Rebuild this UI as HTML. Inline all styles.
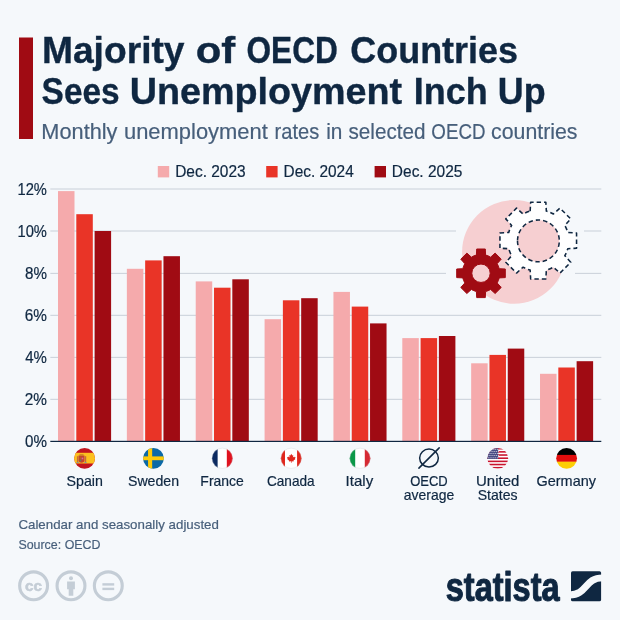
<!DOCTYPE html>
<html lang="en"><head><meta charset="utf-8"><title>Majority of OECD Countries Sees Unemployment Inch Up</title>
<style>html,body{margin:0;padding:0;background:#f5f8fb;}svg{display:block}</style></head>
<body>
<svg width="620" height="620" viewBox="0 0 620 620" font-family="Liberation Sans, sans-serif">
<rect width="620" height="620" fill="#f5f8fb"/>
<rect x="19" y="37.5" width="14" height="101.5" fill="#a00b13"/>
<text y="63.4" font-size="36" fill="#0f2741" font-weight="bold" stroke="#0f2741" stroke-width="0.35"><tspan x="41.93" textLength="142.64" lengthAdjust="spacingAndGlyphs">Majority</tspan> <tspan x="195.67" textLength="39.5" lengthAdjust="spacingAndGlyphs">of</tspan> <tspan x="246.42" textLength="91.47" lengthAdjust="spacingAndGlyphs">OECD</tspan> <tspan x="350.35" textLength="167.67" lengthAdjust="spacingAndGlyphs">Countries</tspan></text>
<text y="103.6" font-size="36" fill="#0f2741" font-weight="bold" stroke="#0f2741" stroke-width="0.35"><tspan x="41.62" textLength="77.98" lengthAdjust="spacingAndGlyphs">Sees</tspan> <tspan x="129.75" textLength="272.38" lengthAdjust="spacingAndGlyphs">Unemployment</tspan> <tspan x="413.8" textLength="73.95" lengthAdjust="spacingAndGlyphs">Inch</tspan> <tspan x="497.75" textLength="47.79" lengthAdjust="spacingAndGlyphs">Up</tspan></text>
<text y="138.8" font-size="21.5" fill="#475f7b" stroke="#475f7b" stroke-width="0.2"><tspan x="41.38" textLength="76.08" lengthAdjust="spacingAndGlyphs">Monthly</tspan> <tspan x="123.93" textLength="143.95" lengthAdjust="spacingAndGlyphs">unemployment</tspan> <tspan x="274.56" textLength="44.64" lengthAdjust="spacingAndGlyphs">rates</tspan> <tspan x="326.16" textLength="16.19" lengthAdjust="spacingAndGlyphs">in</tspan> <tspan x="348.54" textLength="76.93" lengthAdjust="spacingAndGlyphs">selected</tspan> <tspan x="431.33" textLength="54.14" lengthAdjust="spacingAndGlyphs">OECD</tspan> <tspan x="491.09" textLength="86.45" lengthAdjust="spacingAndGlyphs">countries</tspan></text>
<rect x="157.8" y="166" width="11.4" height="11.4" fill="#f5aaac"/>
<text x="175.16" y="177.0" font-size="16.5" fill="#0f2741" stroke="#0f2741" stroke-width="0.2" textLength="70.51" lengthAdjust="spacingAndGlyphs">Dec. 2023</text>
<rect x="266.2" y="166" width="11.4" height="11.4" fill="#e93427"/>
<text x="283.51" y="177.0" font-size="16.5" fill="#0f2741" stroke="#0f2741" stroke-width="0.2" textLength="70.26" lengthAdjust="spacingAndGlyphs">Dec. 2024</text>
<rect x="374.6" y="166" width="11.4" height="11.4" fill="#a00b13"/>
<text x="391.86" y="177.0" font-size="16.5" fill="#0f2741" stroke="#0f2741" stroke-width="0.2" textLength="70.51" lengthAdjust="spacingAndGlyphs">Dec. 2025</text>
<rect x="50.3" y="398.80" width="551.0" height="1.1" fill="#cdd3dc"/>
<rect x="50.3" y="356.85" width="551.0" height="1.1" fill="#cdd3dc"/>
<rect x="50.3" y="314.80" width="551.0" height="1.1" fill="#cdd3dc"/>
<rect x="50.3" y="272.85" width="395.7" height="1.1" fill="#cdd3dc"/>
<rect x="575" y="272.85" width="26.3" height="1.1" fill="#cdd3dc"/>
<rect x="50.3" y="230.45" width="405.7" height="1.1" fill="#cdd3dc"/>
<rect x="584" y="230.45" width="17.3" height="1.1" fill="#cdd3dc"/>
<rect x="50.3" y="188.45" width="551.0" height="1.1" fill="#cdd3dc"/>
<text x="24.98" y="446.5" font-size="16" fill="#0f2741" stroke="#0f2741" stroke-width="0.2" textLength="21.95" lengthAdjust="spacingAndGlyphs">0%</text>
<text x="24.71" y="404.5" font-size="16" fill="#0f2741" stroke="#0f2741" stroke-width="0.2" textLength="22.23" lengthAdjust="spacingAndGlyphs">2%</text>
<text x="25.24" y="362.5" font-size="16" fill="#0f2741" stroke="#0f2741" stroke-width="0.2" textLength="21.68" lengthAdjust="spacingAndGlyphs">4%</text>
<text x="24.71" y="320.5" font-size="16" fill="#0f2741" stroke="#0f2741" stroke-width="0.2" textLength="22.23" lengthAdjust="spacingAndGlyphs">6%</text>
<text x="24.96" y="278.5" font-size="16" fill="#0f2741" stroke="#0f2741" stroke-width="0.2" textLength="21.96" lengthAdjust="spacingAndGlyphs">8%</text>
<text x="17.48" y="236.5" font-size="16" fill="#0f2741" stroke="#0f2741" stroke-width="0.2" textLength="29.44" lengthAdjust="spacingAndGlyphs">10%</text>
<text x="17.48" y="194.5" font-size="16" fill="#0f2741" stroke="#0f2741" stroke-width="0.2" textLength="29.44" lengthAdjust="spacingAndGlyphs">12%</text>
<rect x="58.00" y="191.10" width="16.5" height="250.50" fill="#f5aaac"/>
<rect x="76.30" y="214.20" width="16.5" height="227.40" fill="#e93427"/>
<rect x="94.60" y="231.00" width="16.5" height="210.60" fill="#a00b13"/>
<rect x="126.86" y="268.80" width="16.5" height="172.80" fill="#f5aaac"/>
<rect x="145.16" y="260.40" width="16.5" height="181.20" fill="#e93427"/>
<rect x="163.46" y="256.20" width="16.5" height="185.40" fill="#a00b13"/>
<rect x="195.72" y="281.40" width="16.5" height="160.20" fill="#f5aaac"/>
<rect x="214.02" y="287.70" width="16.5" height="153.90" fill="#e93427"/>
<rect x="232.32" y="279.30" width="16.5" height="162.30" fill="#a00b13"/>
<rect x="264.58" y="319.20" width="16.5" height="122.40" fill="#f5aaac"/>
<rect x="282.88" y="300.30" width="16.5" height="141.30" fill="#e93427"/>
<rect x="301.18" y="298.20" width="16.5" height="143.40" fill="#a00b13"/>
<rect x="333.44" y="291.90" width="16.5" height="149.70" fill="#f5aaac"/>
<rect x="351.74" y="306.60" width="16.5" height="135.00" fill="#e93427"/>
<rect x="370.04" y="323.40" width="16.5" height="118.20" fill="#a00b13"/>
<rect x="402.30" y="338.10" width="16.5" height="103.50" fill="#f5aaac"/>
<rect x="420.60" y="338.10" width="16.5" height="103.50" fill="#e93427"/>
<rect x="438.90" y="336.00" width="16.5" height="105.60" fill="#a00b13"/>
<rect x="471.16" y="363.30" width="16.5" height="78.30" fill="#f5aaac"/>
<rect x="489.46" y="354.90" width="16.5" height="86.70" fill="#e93427"/>
<rect x="507.76" y="348.60" width="16.5" height="93.00" fill="#a00b13"/>
<rect x="540.02" y="373.80" width="16.5" height="67.80" fill="#f5aaac"/>
<rect x="558.32" y="367.50" width="16.5" height="74.10" fill="#e93427"/>
<rect x="576.62" y="361.20" width="16.5" height="80.40" fill="#a00b13"/>
<rect x="50.3" y="440.8" width="551" height="1.2" fill="#0f2741"/>
<text x="66.52" y="485.8" font-size="14.5" fill="#0f2741" stroke="#0f2741" stroke-width="0.2" textLength="36.33" lengthAdjust="spacingAndGlyphs">Spain</text>
<text x="127.97" y="485.8" font-size="14.5" fill="#0f2741" stroke="#0f2741" stroke-width="0.2" textLength="51.07" lengthAdjust="spacingAndGlyphs">Sweden</text>
<text x="200.36" y="485.8" font-size="14.5" fill="#0f2741" stroke="#0f2741" stroke-width="0.2" textLength="43.44" lengthAdjust="spacingAndGlyphs">France</text>
<text x="266.95" y="485.8" font-size="14.5" fill="#0f2741" stroke="#0f2741" stroke-width="0.2" textLength="47.67" lengthAdjust="spacingAndGlyphs">Canada</text>
<text x="345.6" y="485.8" font-size="14.5" fill="#0f2741" stroke="#0f2741" stroke-width="0.2" textLength="27.57" lengthAdjust="spacingAndGlyphs">Italy</text>
<text x="410.18" y="485.8" font-size="14.5" fill="#0f2741" stroke="#0f2741" stroke-width="0.2" textLength="37.5" lengthAdjust="spacingAndGlyphs">OECD</text>
<text x="403.83" y="500.3" font-size="14.5" fill="#0f2741" stroke="#0f2741" stroke-width="0.2" textLength="50.34" lengthAdjust="spacingAndGlyphs">average</text>
<text x="476.06" y="485.8" font-size="14.5" fill="#0f2741" stroke="#0f2741" stroke-width="0.2" textLength="43.27" lengthAdjust="spacingAndGlyphs">United</text>
<text x="477.72" y="500.3" font-size="14.5" fill="#0f2741" stroke="#0f2741" stroke-width="0.2" textLength="39.87" lengthAdjust="spacingAndGlyphs">States</text>
<text x="536.51" y="485.8" font-size="14.5" fill="#0f2741" stroke="#0f2741" stroke-width="0.2" textLength="59.45" lengthAdjust="spacingAndGlyphs">Germany</text>
<text x="18.4" y="529.3" font-size="13.5" fill="#475f7b" stroke="#475f7b" stroke-width="0.2" textLength="200.51" lengthAdjust="spacingAndGlyphs">Calendar and seasonally adjusted</text>
<text x="18.39" y="548.7" font-size="13.5" fill="#475f7b" stroke="#475f7b" stroke-width="0.2" textLength="82.15" lengthAdjust="spacingAndGlyphs">Source: OECD</text>
<defs>
<clipPath id="fc0"><circle cx="84.60" cy="458.3" r="10.4"/></clipPath>
<clipPath id="fc1"><circle cx="153.46" cy="458.3" r="10.4"/></clipPath>
<clipPath id="fc2"><circle cx="222.32" cy="458.3" r="10.4"/></clipPath>
<clipPath id="fc3"><circle cx="291.18" cy="458.3" r="10.4"/></clipPath>
<clipPath id="fc4"><circle cx="360.04" cy="458.3" r="10.4"/></clipPath>
<clipPath id="fc5"><circle cx="428.90" cy="458.3" r="10.4"/></clipPath>
<clipPath id="fc6"><circle cx="497.76" cy="458.3" r="10.4"/></clipPath>
<clipPath id="fc7"><circle cx="566.62" cy="458.3" r="10.4"/></clipPath>
</defs>
<g clip-path="url(#fc0)">
<rect x="73.6" y="447" width="22" height="23" fill="#c2151f"/>
<rect x="73.6" y="452.8" width="22" height="10.7" fill="#fcc01e"/>
<path d="M78.5,455.6h6v4.6q0,2.4 -3,2.6q-3,-0.2 -3,-2.6z" fill="#c5432c"/>
<rect x="76.9" y="456.2" width="1.4" height="6.5" fill="#c46a3c"/><rect x="84.8" y="456.2" width="1.4" height="6.5" fill="#c46a3c"/>
<rect x="76.6" y="462.1" width="2" height="0.9" fill="#6f9fb0"/><rect x="84.5" y="462.1" width="2" height="0.9" fill="#6f9fb0"/>
<rect x="79.3" y="454.2" width="4.4" height="1.5" rx="0.5" fill="#c77a2a"/>
<rect x="81.6" y="457.6" width="1.7" height="1.7" fill="#d66aa8"/><rect x="79.6" y="459.5" width="1.6" height="1.8" fill="#5e7f6a"/><rect x="79.6" y="457.2" width="1.6" height="1.6" fill="#b7651f"/>
</g>
<g clip-path="url(#fc1)">
<rect x="142.45999999999998" y="447" width="22" height="23" fill="#0b69a7"/>
<rect x="148.06" y="447" width="4.1" height="23" fill="#fdca0a"/>
<rect x="142.46" y="456.4" width="22" height="3.8" fill="#fdca0a"/>
</g>
<g clip-path="url(#fc2)">
<rect x="211.32" y="447" width="22" height="23" fill="#ffffff"/>
<rect x="211.32" y="447" width="6.30" height="23" fill="#0b2a60"/>
<rect x="226.82" y="447" width="7" height="23" fill="#e0121f"/>
</g>
<circle cx="222.32" cy="458.3" r="10.15" fill="none" stroke="#c9ccd2" stroke-opacity="0.55" stroke-width="0.6"/>
<g clip-path="url(#fc3)">
<rect x="280.18" y="447" width="22" height="23" fill="#ffffff"/>
<rect x="280.18" y="447" width="4.80" height="23" fill="#e0261c"/>
<rect x="297.08" y="447" width="6" height="23" fill="#e0261c"/>
<path transform="translate(291.28,458.1) scale(0.95)" d="M0,-4.6 L1,-2.7 L2.1,-3.2 L1.7,-0.6 L3,-1.8 L3.3,-0.9 L4.5,-1.1 L3.9,0.6 L4.4,1 L2.2,2.9 L2.5,3.7 L0.35,3.4 L0.35,5 L-0.35,5 L-0.35,3.4 L-2.5,3.7 L-2.2,2.9 L-4.4,1 L-3.9,0.6 L-4.5,-1.1 L-3.3,-0.9 L-3,-1.8 L-1.7,-0.6 L-2.1,-3.2 L-1,-2.7 Z" fill="#e0261c"/>
</g>
<circle cx="291.18" cy="458.3" r="10.15" fill="none" stroke="#c9ccd2" stroke-opacity="0.55" stroke-width="0.6"/>
<g clip-path="url(#fc4)">
<rect x="349.04" y="447" width="22" height="23" fill="#ffffff"/>
<rect x="349.04" y="447" width="6.15" height="23" fill="#0c9848"/>
<rect x="364.79" y="447" width="7" height="23" fill="#d62a33"/>
</g>
<circle cx="360.04" cy="458.3" r="10.15" fill="none" stroke="#c9ccd2" stroke-opacity="0.55" stroke-width="0.6"/>
<ellipse cx="429.00" cy="458.05" rx="9.35" ry="9" fill="none" stroke="#0f2741" stroke-width="1.5"/>
<path d="M418.9,468.1 L439.2,447.9" stroke="#0f2741" stroke-width="1.5" stroke-linecap="round" fill="none"/>
<g clip-path="url(#fc6)">
<rect x="486.76" y="447" width="22" height="23" fill="#ffffff"/>
<rect x="486.76" y="447.90" width="22" height="1.58" fill="#c9142f"/>
<rect x="486.76" y="451.07" width="22" height="1.58" fill="#c9142f"/>
<rect x="486.76" y="454.24" width="22" height="1.58" fill="#c9142f"/>
<rect x="486.76" y="457.41" width="22" height="1.58" fill="#c9142f"/>
<rect x="486.76" y="460.58" width="22" height="1.58" fill="#c9142f"/>
<rect x="486.76" y="463.75" width="22" height="1.58" fill="#c9142f"/>
<rect x="486.76" y="466.92" width="22" height="1.58" fill="#c9142f"/>
<rect x="486.76" y="447" width="11.40" height="11.99" fill="#4a4c84"/>
<circle cx="488.16" cy="449.30" r="0.5" fill="#fff" fill-opacity="0.9"/>
<circle cx="490.06" cy="449.30" r="0.5" fill="#fff" fill-opacity="0.9"/>
<circle cx="491.96" cy="449.30" r="0.5" fill="#fff" fill-opacity="0.9"/>
<circle cx="493.86" cy="449.30" r="0.5" fill="#fff" fill-opacity="0.9"/>
<circle cx="495.76" cy="449.30" r="0.5" fill="#fff" fill-opacity="0.9"/>
<circle cx="497.66" cy="449.30" r="0.5" fill="#fff" fill-opacity="0.9"/>
<circle cx="489.11" cy="451.40" r="0.5" fill="#fff" fill-opacity="0.9"/>
<circle cx="491.01" cy="451.40" r="0.5" fill="#fff" fill-opacity="0.9"/>
<circle cx="492.91" cy="451.40" r="0.5" fill="#fff" fill-opacity="0.9"/>
<circle cx="494.81" cy="451.40" r="0.5" fill="#fff" fill-opacity="0.9"/>
<circle cx="496.71" cy="451.40" r="0.5" fill="#fff" fill-opacity="0.9"/>
<circle cx="498.61" cy="451.40" r="0.5" fill="#fff" fill-opacity="0.9"/>
<circle cx="488.16" cy="453.50" r="0.5" fill="#fff" fill-opacity="0.9"/>
<circle cx="490.06" cy="453.50" r="0.5" fill="#fff" fill-opacity="0.9"/>
<circle cx="491.96" cy="453.50" r="0.5" fill="#fff" fill-opacity="0.9"/>
<circle cx="493.86" cy="453.50" r="0.5" fill="#fff" fill-opacity="0.9"/>
<circle cx="495.76" cy="453.50" r="0.5" fill="#fff" fill-opacity="0.9"/>
<circle cx="497.66" cy="453.50" r="0.5" fill="#fff" fill-opacity="0.9"/>
<circle cx="489.11" cy="455.60" r="0.5" fill="#fff" fill-opacity="0.9"/>
<circle cx="491.01" cy="455.60" r="0.5" fill="#fff" fill-opacity="0.9"/>
<circle cx="492.91" cy="455.60" r="0.5" fill="#fff" fill-opacity="0.9"/>
<circle cx="494.81" cy="455.60" r="0.5" fill="#fff" fill-opacity="0.9"/>
<circle cx="496.71" cy="455.60" r="0.5" fill="#fff" fill-opacity="0.9"/>
<circle cx="498.61" cy="455.60" r="0.5" fill="#fff" fill-opacity="0.9"/>
<circle cx="488.16" cy="457.70" r="0.5" fill="#fff" fill-opacity="0.9"/>
<circle cx="490.06" cy="457.70" r="0.5" fill="#fff" fill-opacity="0.9"/>
<circle cx="491.96" cy="457.70" r="0.5" fill="#fff" fill-opacity="0.9"/>
<circle cx="493.86" cy="457.70" r="0.5" fill="#fff" fill-opacity="0.9"/>
<circle cx="495.76" cy="457.70" r="0.5" fill="#fff" fill-opacity="0.9"/>
<circle cx="497.66" cy="457.70" r="0.5" fill="#fff" fill-opacity="0.9"/>
</g>
<g clip-path="url(#fc7)">
<rect x="555.62" y="447" width="22" height="8" fill="#000000"/>
<rect x="555.62" y="454.9" width="22" height="7" fill="#e10d0d"/>
<rect x="555.62" y="461.7" width="22" height="8" fill="#fdce05"/>
</g>
<circle cx="514" cy="251.9" r="51.9" fill="#f6cfd1"/>
<path d="M530.15,211.09L530.65,202.30L545.85,202.30L546.35,211.09A30.6,30.6 0 0 1 553.39,214.01L559.96,208.14L570.71,218.89L564.84,225.46A30.6,30.6 0 0 1 567.76,232.50L576.55,233.00L576.55,248.20L567.76,248.70A30.6,30.6 0 0 1 564.84,255.74L570.71,262.31L559.96,273.06L553.39,267.19A30.6,30.6 0 0 1 546.35,270.11L545.85,278.90L530.65,278.90L530.15,270.11A30.6,30.6 0 0 1 523.11,267.19L516.54,273.06L505.79,262.31L511.66,255.74A30.6,30.6 0 0 1 508.74,248.70L499.95,248.20L499.95,233.00L508.74,232.50A30.6,30.6 0 0 1 511.66,225.46L505.79,218.89L516.54,208.14L523.11,214.01A30.6,30.6 0 0 1 530.15,211.09ZM517.50,240.90a20.9,20.9 0 1 0 41.8,0a20.9,20.9 0 1 0 -41.8,0Z" fill="#ffffff" fill-rule="evenodd" stroke="#0f2741" stroke-width="1.55" stroke-dasharray="4.4 3" stroke-linejoin="round"/>
<path d="M476.40,255.07L476.70,249.00L485.30,249.00L485.60,255.07A18.8,18.8 0 0 1 490.64,257.16L495.14,253.08L501.22,259.16L497.14,263.66A18.8,18.8 0 0 1 499.23,268.70L505.30,269.00L505.30,277.60L499.23,277.90A18.8,18.8 0 0 1 497.14,282.94L501.22,287.44L495.14,293.52L490.64,289.44A18.8,18.8 0 0 1 485.60,291.53L485.30,297.60L476.70,297.60L476.40,291.53A18.8,18.8 0 0 1 471.36,289.44L466.86,293.52L460.78,287.44L464.86,282.94A18.8,18.8 0 0 1 462.77,277.90L456.70,277.60L456.70,269.00L462.77,268.70A18.8,18.8 0 0 1 464.86,263.66L460.78,259.16L466.86,253.08L471.36,257.16A18.8,18.8 0 0 1 476.40,255.07ZM471.80,273.25a9.2,9.2 0 1 0 18.4,0a9.2,9.2 0 1 0 -18.4,0Z" fill="#a00b13" fill-rule="evenodd" stroke="#a00b13" stroke-width="1" stroke-linejoin="round"/>
<circle cx="33.6" cy="585.8" r="13.95" fill="none" stroke="#c4cdd6" stroke-width="3.1"/>
<circle cx="71.0" cy="585.8" r="13.95" fill="none" stroke="#c4cdd6" stroke-width="3.1"/>
<circle cx="108.3" cy="585.8" r="13.95" fill="none" stroke="#c4cdd6" stroke-width="3.1"/>
<text x="33.6" y="590.6" font-size="15" font-weight="bold" fill="#c4cdd6" stroke="#c4cdd6" stroke-width="0.5" text-anchor="middle" textLength="17" lengthAdjust="spacingAndGlyphs">cc</text>
<circle cx="71" cy="578.3" r="2" fill="#c4cdd6"/>
<path d="M67.1,581.6h7.8v7.6h-1.6v6.6h-4.6v-6.6h-1.6z" fill="#c4cdd6"/>
<rect x="102.4" y="583.2" width="11.8" height="2.4" fill="#c4cdd6"/><rect x="102.4" y="587.7" width="11.8" height="2.4" fill="#c4cdd6"/>
<text x="445.79" y="600.8" font-size="40" fill="#0f2741" font-weight="bold" textLength="113.81" lengthAdjust="spacingAndGlyphs" stroke="#0f2741" stroke-width="1.1" stroke-linejoin="round">statista</text>
<rect x="571" y="571.2" width="30.1" height="30.1" rx="1.6" fill="#0f2741"/>
<path d="M602.5,577.85 C584.5,577.85 587.5,594.95 569.5,594.95" fill="none" stroke="#f5f8fb" stroke-width="6.9"/>
</svg>
</body></html>
